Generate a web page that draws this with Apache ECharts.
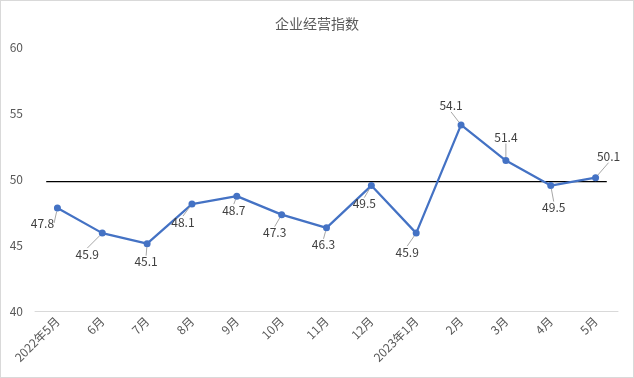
<!DOCTYPE html>
<html>
<head>
<meta charset="utf-8">
<script src="https://cdn.jsdelivr.net/npm/echarts@6/dist/echarts.min.js"></script>
<style>
  html, body { margin: 0; padding: 0; background: #fff; }
  #chart { width: 634px; height: 378px; box-sizing: border-box; border: 1px solid #d9d9d9; }
</style>
</head>
<body>
<div id="chart"></div>
<script>
var months = ['2022年5月', '6月', '7月', '8月', '9月', '10月', '11月', '12月', '2023年1月', '2月', '3月', '4月', '5月'];
var indexValues = [47.8, 45.9, 45.1, 48.1, 48.7, 47.3, 46.3, 49.5, 45.9, 54.1, 51.4, 49.5, 50.1];
var refLevel = 49.8;
var yTicks = [40, 45, 50, 55, 60];

// label placement around each point (px)
var labelShift = [
  [-15, 15], [-15, 21], [-1, 18], [-9, 18], [-3, 14], [-7, 18], [-3, 17],
  [-7, 18], [-9, 19], [-10, -19], [0, -23], [3, 22], [13, -21]
];

var font = '"Noto Sans CJK SC", "Noto Sans", sans-serif';
var myChart = echarts.init(document.getElementById('chart'));

var option = {
  animation: false,
  title: {
    text: '企业经营指数',
    left: 'center',
    top: 11,
    textStyle: { color: '#595959', fontSize: 14, fontWeight: 'normal', fontFamily: font }
  },
  grid: { left: 34, right: 15, top: 46, bottom: 66 },
  xAxis: [
    {
      type: 'category',
      data: months,
      boundaryGap: true,
      axisLine: { lineStyle: { color: '#d9d9d9' } },
      axisTick: { show: false },
      axisLabel: { color: '#595959', fontSize: 12, rotate: 45, interval: 0, fontFamily: font, margin: 8 }
    },
    {
      type: 'value',
      show: false,
      min: -0.5,
      max: months.length - 0.5
    }
  ],
  yAxis: {
    type: 'value',
    min: yTicks[0],
    max: yTicks[yTicks.length - 1],
    interval: 5,
    axisLine: { show: false },
    axisTick: { show: false },
    splitLine: { show: false },
    axisLabel: { color: '#595959', fontSize: 12, fontFamily: font, margin: 12 }
  },
  series: [
    {
      name: '荣枯线',
      type: 'line',
      xAxisIndex: 1,
      data: [[-0.25, refLevel], [months.length - 0.75, refLevel]],
      showSymbol: false,
      silent: true,
      lineStyle: { color: '#000', width: 1.2 },
      z: 1
    },
    {
      name: '企业经营指数',
      type: 'line',
      data: indexValues,
      symbol: 'circle',
      symbolSize: 7,
      lineStyle: { color: '#4472C4', width: 2.25 },
      itemStyle: { color: '#4472C4' },
      label: {
        show: true,
        position: 'inside',
        color: '#404040',
        fontSize: 12,
        fontFamily: font
      },
      labelLine: {
        show: true,
        lineStyle: { color: '#a6a6a6', width: 1 }
      },
      labelLayout: function (params) {
        var s = labelShift[params.dataIndex];
        return { dx: s[0], dy: s[1] };
      },
      z: 3
    }
  ]
};

myChart.setOption(option);
</script>
</body>
</html>
